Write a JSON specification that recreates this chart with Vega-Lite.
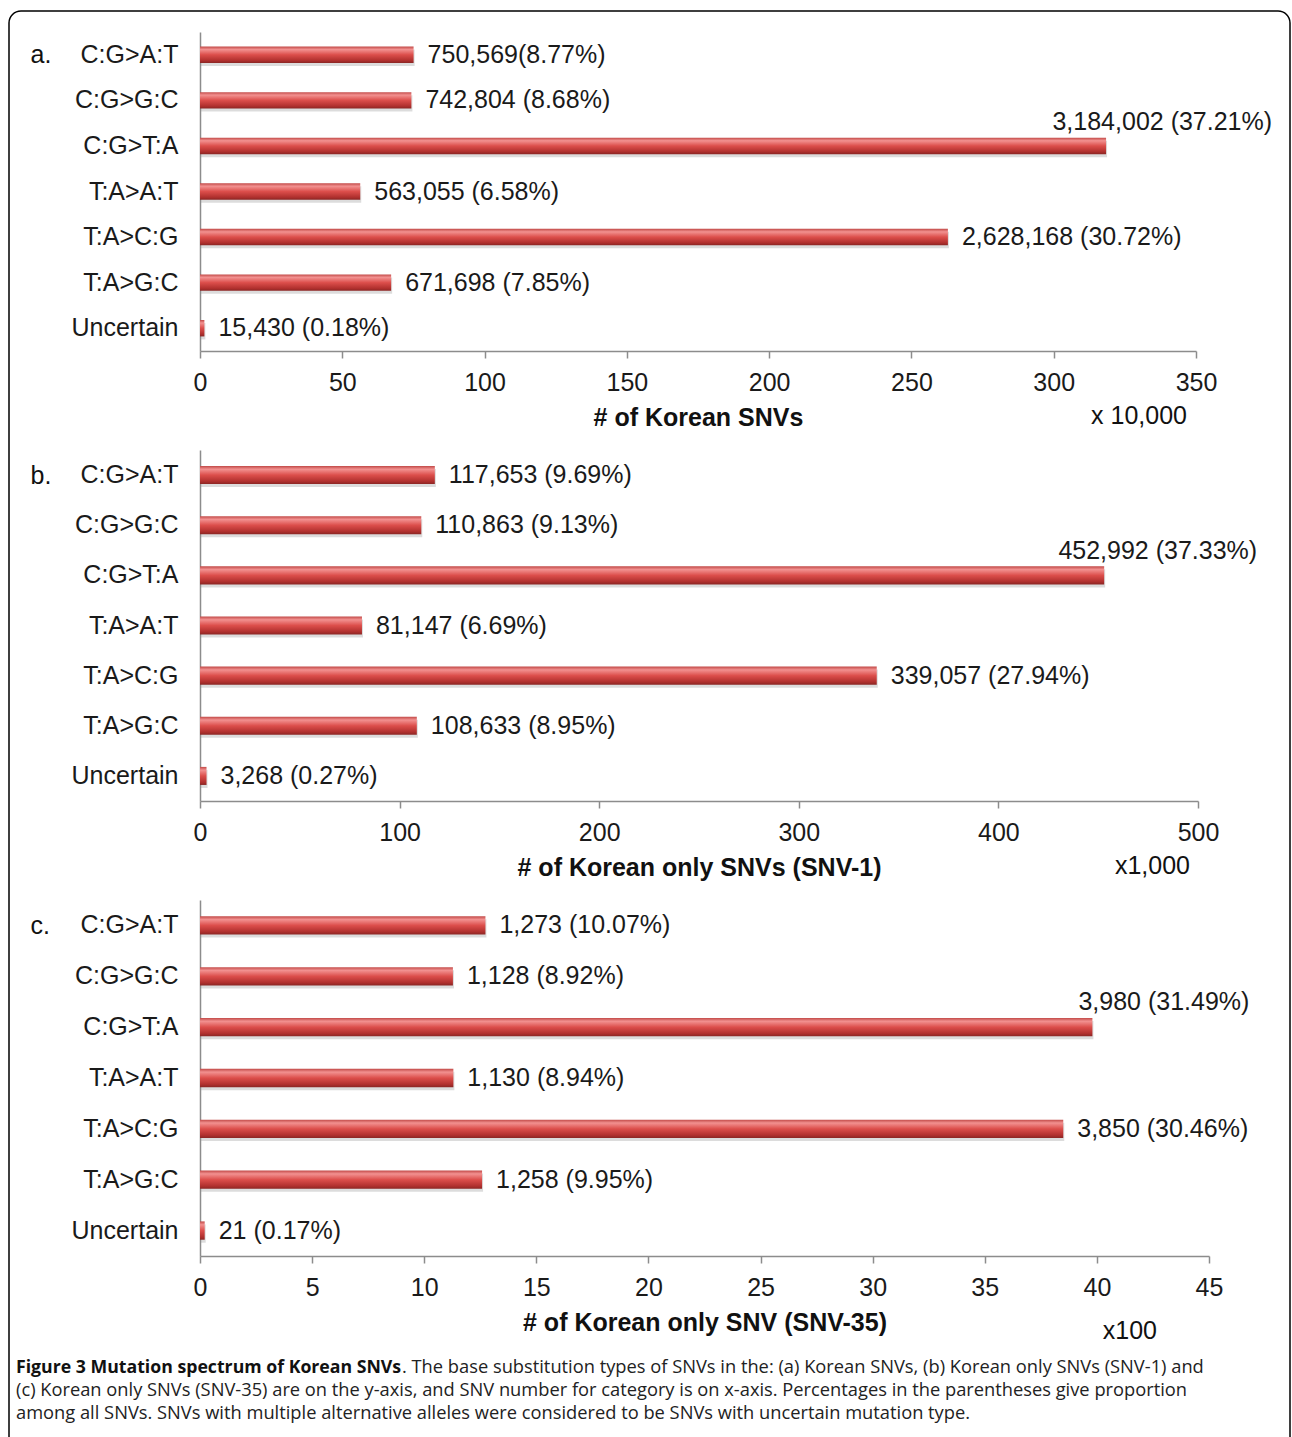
{
  "$schema": "https://vega.github.io/schema/vega-lite/v6.json",
  "background": "white",
  "padding": {"left": 8, "top": 10, "right": 0, "bottom": 0},
  "bounds": "flush",
  "spacing": 99,
  "config": {
    "font": "Liberation Sans",
    "view": {"stroke": null},
    "axis": {
      "domainColor": "#8c8c8c",
      "domainWidth": 1.5,
      "tickColor": "#8c8c8c",
      "tickWidth": 1.5,
      "labelColor": "#1a1a1a",
      "labelFontSize": 25,
      "labelFont": "Liberation Sans",
      "titleColor": "#111111",
      "titleFont": "Liberation Sans",
      "titleFontSize": 25,
      "grid": false
    },
    "axisX": {"tickSize": 7, "labelPadding": 12, "titlePadding": 10, "labelFlush": false, "labelOverlap": false, "titleFontWeight": "bold"},
    "axisY": {"ticks": false, "labelPadding": 22, "titleAngle": 0, "titleAlign": "left", "titleBaseline": "middle", "titleFontWeight": "normal"},
    "title": {"font": "Liberation Sans", "fontSize": 25, "fontWeight": "normal", "color": "#111111"},
    "text": {"font": "Liberation Sans", "fontSize": 25, "color": "#1a1a1a"}
  },
  "datasets": {
    "snv": [
      {"panel": "a", "type": "C:G>A:T", "count": 750569, "label": "750,569(8.77%)"},
      {"panel": "a", "type": "C:G>G:C", "count": 742804, "label": "742,804 (8.68%)"},
      {"panel": "a", "type": "C:G>T:A", "count": 3184002, "label": "3,184,002 (37.21%)"},
      {"panel": "a", "type": "T:A>A:T", "count": 563055, "label": "563,055 (6.58%)"},
      {"panel": "a", "type": "T:A>C:G", "count": 2628168, "label": "2,628,168 (30.72%)"},
      {"panel": "a", "type": "T:A>G:C", "count": 671698, "label": "671,698 (7.85%)"},
      {"panel": "a", "type": "Uncertain", "count": 15430, "label": "15,430 (0.18%)"},
      {"panel": "b", "type": "C:G>A:T", "count": 117653, "label": "117,653 (9.69%)"},
      {"panel": "b", "type": "C:G>G:C", "count": 110863, "label": "110,863 (9.13%)"},
      {"panel": "b", "type": "C:G>T:A", "count": 452992, "label": "452,992 (37.33%)"},
      {"panel": "b", "type": "T:A>A:T", "count": 81147, "label": "81,147 (6.69%)"},
      {"panel": "b", "type": "T:A>C:G", "count": 339057, "label": "339,057 (27.94%)"},
      {"panel": "b", "type": "T:A>G:C", "count": 108633, "label": "108,633 (8.95%)"},
      {"panel": "b", "type": "Uncertain", "count": 3268, "label": "3,268 (0.27%)"},
      {"panel": "c", "type": "C:G>A:T", "count": 1273, "label": "1,273 (10.07%)"},
      {"panel": "c", "type": "C:G>G:C", "count": 1128, "label": "1,128 (8.92%)"},
      {"panel": "c", "type": "C:G>T:A", "count": 3980, "label": "3,980 (31.49%)"},
      {"panel": "c", "type": "T:A>A:T", "count": 1130, "label": "1,130 (8.94%)"},
      {"panel": "c", "type": "T:A>C:G", "count": 3850, "label": "3,850 (30.46%)"},
      {"panel": "c", "type": "T:A>G:C", "count": 1258, "label": "1,258 (9.95%)"},
      {"panel": "c", "type": "Uncertain", "count": 21, "label": "21 (0.17%)"}
    ],
    "caption": [{"figure": 3}]
  },
  "vconcat": [
    {
      "width": 996,
      "height": 319,
      "data": {"name": "snv"},
      "transform": [{"filter": "datum.panel == 'a'"}],
      "title": {"text": "x 10,000", "orient": "bottom", "anchor": "end", "frame": "group", "dx": -9, "dy": -30},
      "encoding": {
        "y": {
          "field": "type", "type": "nominal",
          "sort": ["C:G>A:T", "C:G>G:C", "C:G>T:A", "T:A>A:T", "T:A>C:G", "T:A>G:C", "Uncertain"],
          "scale": {"paddingInner": 0, "paddingOuter": 0},
          "axis": {"title": "a.", "titleX": -170, "titleY": 22.8}
        },
        "x": {
          "field": "count", "type": "quantitative",
          "scale": {"domain": [0, 3500000], "nice": false},
          "axis": {"title": "# of Korean SNVs", "values": [0, 500000, 1000000, 1500000, 2000000, 2500000, 3000000, 3500000], "labelExpr": "format(datum.value / 10000, 'd')"}
        }
      },
      "layer": [
        {"mark": {"type": "bar", "height": {"band": 0.36}, "yOffset": 3, "xOffset": 1, "color": "#9a9a9a", "opacity": 0.35}},
        {"mark": {"type": "bar", "height": {"band": 0.36}, "color": {"gradient": "linear", "x1": 0, "y1": 0, "x2": 0, "y2": 1, "stops": [{"offset": 0, "color": "#c24a48"}, {"offset": 0.18, "color": "#f29190"}, {"offset": 0.5, "color": "#dc4e4b"}, {"offset": 0.85, "color": "#b0302e"}, {"offset": 1, "color": "#8a2624"}]}}},
        {"transform": [{"filter": "datum.type != 'C:G>T:A'"}], "mark": {"type": "text", "align": "left", "baseline": "middle", "dx": 14}, "encoding": {"text": {"field": "label"}}},
        {"transform": [{"filter": "datum.type == 'C:G>T:A'"}], "mark": {"type": "text", "align": "right", "baseline": "middle", "dx": 166, "dy": -24}, "encoding": {"text": {"field": "label"}}}
      ]
    },
    {
      "width": 998,
      "height": 351,
      "data": {"name": "snv"},
      "transform": [{"filter": "datum.panel == 'b'"}],
      "title": {"text": "x1,000", "orient": "bottom", "anchor": "end", "frame": "group", "dx": -8, "dy": -30},
      "encoding": {
        "y": {
          "field": "type", "type": "nominal",
          "sort": ["C:G>A:T", "C:G>G:C", "C:G>T:A", "T:A>A:T", "T:A>C:G", "T:A>G:C", "Uncertain"],
          "scale": {"paddingInner": 0, "paddingOuter": 0},
          "axis": {"title": "b.", "titleX": -170, "titleY": 25.1}
        },
        "x": {
          "field": "count", "type": "quantitative",
          "scale": {"domain": [0, 500000], "nice": false},
          "axis": {"title": "# of Korean only SNVs (SNV-1)", "values": [0, 100000, 200000, 300000, 400000, 500000], "labelExpr": "format(datum.value / 1000, 'd')"}
        }
      },
      "layer": [
        {"mark": {"type": "bar", "height": {"band": 0.36}, "yOffset": 3, "xOffset": 1, "color": "#9a9a9a", "opacity": 0.35}},
        {"mark": {"type": "bar", "height": {"band": 0.36}, "color": {"gradient": "linear", "x1": 0, "y1": 0, "x2": 0, "y2": 1, "stops": [{"offset": 0, "color": "#c24a48"}, {"offset": 0.18, "color": "#f29190"}, {"offset": 0.5, "color": "#dc4e4b"}, {"offset": 0.85, "color": "#b0302e"}, {"offset": 1, "color": "#8a2624"}]}}},
        {"transform": [{"filter": "datum.type != 'C:G>T:A'"}], "mark": {"type": "text", "align": "left", "baseline": "middle", "dx": 14}, "encoding": {"text": {"field": "label"}}},
        {"transform": [{"filter": "datum.type == 'C:G>T:A'"}], "mark": {"type": "text", "align": "right", "baseline": "middle", "dx": 153, "dy": -24}, "encoding": {"text": {"field": "label"}}}
      ]
    },
    {
      "width": 1009,
      "height": 356,
      "data": {"name": "snv"},
      "transform": [{"filter": "datum.panel == 'c'"}],
      "title": {"text": "x100", "orient": "bottom", "anchor": "end", "frame": "group", "dx": -52, "dy": -20},
      "encoding": {
        "y": {
          "field": "type", "type": "nominal",
          "sort": ["C:G>A:T", "C:G>G:C", "C:G>T:A", "T:A>A:T", "T:A>C:G", "T:A>G:C", "Uncertain"],
          "scale": {"paddingInner": 0, "paddingOuter": 0},
          "axis": {"title": "c.", "titleX": -170, "titleY": 25.4}
        },
        "x": {
          "field": "count", "type": "quantitative",
          "scale": {"domain": [0, 4500], "nice": false},
          "axis": {"title": "# of Korean only SNV (SNV-35)", "values": [0, 500, 1000, 1500, 2000, 2500, 3000, 3500, 4000, 4500], "labelExpr": "format(datum.value / 100, 'd')"}
        }
      },
      "layer": [
        {"mark": {"type": "bar", "height": {"band": 0.36}, "yOffset": 3, "xOffset": 1, "color": "#9a9a9a", "opacity": 0.35}},
        {"mark": {"type": "bar", "height": {"band": 0.36}, "color": {"gradient": "linear", "x1": 0, "y1": 0, "x2": 0, "y2": 1, "stops": [{"offset": 0, "color": "#c24a48"}, {"offset": 0.18, "color": "#f29190"}, {"offset": 0.5, "color": "#dc4e4b"}, {"offset": 0.85, "color": "#b0302e"}, {"offset": 1, "color": "#8a2624"}]}}},
        {"transform": [{"filter": "datum.type != 'C:G>T:A'"}], "mark": {"type": "text", "align": "left", "baseline": "middle", "dx": 14}, "encoding": {"text": {"field": "label"}}},
        {"transform": [{"filter": "datum.type == 'C:G>T:A'"}], "mark": {"type": "text", "align": "right", "baseline": "middle", "dx": 157, "dy": -25}, "encoding": {"text": {"field": "label"}}}
      ]
    },
    {
      "width": 1000,
      "height": 70,
      "data": {"name": "caption"},
      "layer": [
        {"mark": {"type": "rect", "filled": false, "stroke": "#000000", "strokeWidth": 1.5, "cornerRadius": 12}, "encoding": {"x": {"value": -191}, "x2": {"value": 1090}, "y": {"value": -1344}, "y2": {"value": 110}}},
        {"mark": {"type": "text", "align": "left", "baseline": "middle", "font": "Open Sans", "fontSize": 17.7, "fontWeight": "bold", "color": "#111111", "text": "Figure 3 Mutation spectrum of Korean SNVs"}, "encoding": {"x": {"value": -184}, "y": {"value": 13}}},
        {"mark": {"type": "text", "align": "left", "baseline": "middle", "font": "Open Sans", "fontSize": 18.3, "color": "#222222", "text": ". The base substitution types of SNVs in the: (a) Korean SNVs, (b) Korean only SNVs (SNV-1) and"}, "encoding": {"x": {"value": 202}, "y": {"value": 13}}},
        {"mark": {"type": "text", "align": "left", "baseline": "middle", "font": "Open Sans", "fontSize": 18.3, "color": "#222222", "text": "(c) Korean only SNVs (SNV-35) are on the y-axis, and SNV number for category is on x-axis. Percentages in the parentheses give proportion"}, "encoding": {"x": {"value": -184}, "y": {"value": 36}}},
        {"mark": {"type": "text", "align": "left", "baseline": "middle", "font": "Open Sans", "fontSize": 18.3, "color": "#222222", "text": "among all SNVs. SNVs with multiple alternative alleles were considered to be SNVs with uncertain mutation type."}, "encoding": {"x": {"value": -184}, "y": {"value": 59}}}
      ]
    }
  ]
}
